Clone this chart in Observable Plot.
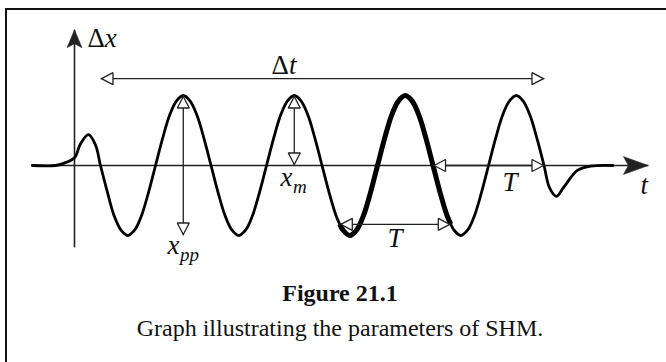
<!DOCTYPE html>
<html><head><meta charset="utf-8">
<script src="https://cdn.jsdelivr.net/npm/d3@7"></script>
<script src="https://cdn.jsdelivr.net/npm/@observablehq/plot@0.6"></script>
<style>
html,body{margin:0;padding:0;background:#fff;overflow:hidden;}
#wrap{position:relative;width:666px;height:362px;overflow:hidden;background:#fff;}
#frame{position:absolute;left:5px;top:8px;width:800px;height:500px;border-left:2px solid #111;border-top:2px solid #111;}
#chart{position:absolute;left:0;top:0;}
.cap{position:absolute;left:0;width:680px;text-align:center;font-family:"Liberation Serif","Times New Roman",serif;font-size:24px;line-height:24px;color:#111;white-space:nowrap;}
#fig{top:281px;font-weight:bold;}
#desc{top:316px;}
</style></head>
<body><div id="wrap"><div id="frame"></div><div id="chart"></div>
<div class="cap" id="fig">Figure 21.1</div>
<div class="cap" id="desc">Graph illustrating the parameters of SHM.</div></div>
<script>
// ---- data (t in periods from the Δx axis, v in amplitudes) ----
const waveT = [-0.38, -0.17, -0.10, 0.00, 0.054, 0.126, 0.19, 0.234, 0.2965, 0.355, 0.4175,
  0.48, 0.5425, 0.605, 0.6675, 0.73, 0.7925, 0.855, 0.9175,
  0.98, 1.0425, 1.105, 1.1675, 1.23, 1.2925, 1.355, 1.4175,
  1.48, 1.5425, 1.605, 1.6675, 1.73, 1.7925, 1.855, 1.9175,
  1.98, 2.0425, 2.105, 2.1675, 2.23, 2.2925, 2.355, 2.39, 2.4175,
  2.48, 2.5425, 2.605, 2.6675, 2.73, 2.7925, 2.855, 2.9175,
  2.98, 3.0425, 3.105, 3.1675, 3.23, 3.2925, 3.355, 3.39, 3.4175,
  3.48, 3.5425, 3.605, 3.6675, 3.73, 3.7925, 3.855, 3.9175,
  3.98, 4.0425, 4.105, 4.1675, 4.23, 4.28, 4.342, 4.408, 4.53, 4.65, 4.85];
const waveV = [0, 0, 0.03, 0.11, 0.31, 0.44, 0.29, 0, -0.38, -0.71, -0.92,
  -1, -0.92, -0.71, -0.38, 0, 0.38, 0.71, 0.92,
  1, 0.92, 0.71, 0.38, 0, -0.38, -0.71, -0.92,
  -1, -0.92, -0.71, -0.38, 0, 0.38, 0.71, 0.92,
  1, 0.92, 0.71, 0.38, 0, -0.38, -0.71, -0.84, -0.92,
  -1, -0.92, -0.71, -0.38, 0, 0.38, 0.71, 0.92,
  1, 0.92, 0.71, 0.38, 0, -0.38, -0.71, -0.84, -0.92,
  -1, -0.92, -0.71, -0.38, 0, 0.38, 0.71, 0.92,
  1, 0.92, 0.71, 0.38, 0, -0.32, -0.44, -0.31, -0.07, -0.01, 0];
const boldFrom = 2.39, boldTo = 3.39;   // highlighted period

const arrowNames = ["Δt", "x_pp", "x_m", "T (lower)", "T (axis)"];
const arrowT1 = [0.234, 0.98, 1.98, 2.39, 3.23];
const arrowV1 = [1.24, -1, 0, -0.84, 0];
const arrowT2 = [4.234, 0.98, 1.98, 3.39, 4.234];
const arrowV2 = [1.24, 1, 1, -0.84, 0];

const axisNames = ["t", "Δx"];
const axisT1 = [-0.38, 0], axisV1 = [0, -1.17];
const axisT2 = [5.17, 0], axisV2 = [0, 1.94];

const labelText = ["Δx", "Δt", "x_m", "x_pp", "T", "T", "t"];
const labelT = [0.117, 1.775, 1.856, 0.838, 2.82, 3.856, 5.10];
const labelV = [1.70, 1.314, -0.286, -1.271, -1.171, -0.371, -0.40];

// ---- build tables ----
const wave = waveT.map((t, i) => ({t, v: waveV[i]}));
const bold = wave.filter(d => d.t >= boldFrom && d.t <= boldTo);
const arrows = arrowNames.map((name, i) => ({name, t1: arrowT1[i], v1: arrowV1[i], t2: arrowT2[i], v2: arrowV2[i]}));
const axes = axisNames.map((name, i) => ({name, t1: axisT1[i], v1: axisV1[i], t2: axisT2[i], v2: axisV2[i]}));
const labels = labelText.map((text, i) => ({text, t: labelT[i], v: labelV[i]}));

const W = 666, H = 270;
const FONT = '"Liberation Serif", "Times New Roman", serif';
const LS = 27, SS = 19, SUBDROP = 7;

// custom arrowheads
const NS = "http://www.w3.org/2000/svg";
function head(d, filled, sw) {
  return (color, context) => {
    const doc = (context && context.document) || document;
    const m = doc.createElementNS(NS, "marker");
    m.setAttribute("viewBox", "-30 -15 32 30");
    m.setAttribute("markerWidth", 32);
    m.setAttribute("markerHeight", 30);
    m.setAttribute("markerUnits", "userSpaceOnUse");
    m.setAttribute("refX", 0);
    m.setAttribute("refY", 0);
    m.setAttribute("orient", "auto-start-reverse");
    m.setAttribute("overflow", "visible");
    const p = doc.createElementNS(NS, "path");
    p.setAttribute("d", d);
    p.setAttribute("fill", filled ? color : "#fff");
    p.setAttribute("stroke", color);
    p.setAttribute("stroke-width", sw);
    p.setAttribute("stroke-linejoin", "miter");
    m.appendChild(p);
    return m;
  };
}
const openHead = head("M-1,0L-12.5,-6L-12.5,6Z", false, 1.3);
const bigHeadX = head("M0,0L-25,-9L-20,0L-25,9Z", true, 0.5);
const bigHeadY = head("M0,0L-18,-7.5L-14,0L-18,7.5Z", true, 0.5);

// label parts
const ctx = document.createElement("canvas").getContext("2d");
function measure(text, style, size) { ctx.font = `${style} ${size}px "Liberation Serif"`; return ctx.measureText(text).width; }
const labelMarks = [];
labels.forEach(L => {
  let s = L.text, dx = 0;
  const parts = [];
  if (s.startsWith("Δ")) { parts.push({text: "Δ", style: "normal", size: LS, dy: 0}); s = s.slice(1); }
  const [main, sub] = s.split("_");
  parts.push({text: main, style: "italic", size: LS, dy: 0});
  if (sub) parts.push({text: sub, style: "italic", size: SS, dy: SUBDROP});
  parts.forEach(p => {
    labelMarks.push(Plot.text([L], {
      x: "t", y: "v", text: () => p.text, dx, dy: p.dy,
      textAnchor: "start", lineAnchor: "bottom",
      fontFamily: FONT, fontSize: p.size, fontStyle: p.style, fill: "#111"
    }));
    dx += measure(p.text, p.style, p.size) + (p.style === "italic" ? 0.5 : 0);
  });
});

const chart = Plot.plot({
  width: W, height: H, margin: 0,
  style: {background: "transparent", overflow: "visible"},
  x: {domain: [-74 / 111, (W - 74) / 111], axis: null},
  y: {domain: [(165 - H) / 70, 165 / 70], axis: null},
  marks: [
    Plot.link(axes.filter(d => d.name === "t"), {x1: "t1", y1: "v1", x2: "t2", y2: "v2", stroke: "#222", strokeWidth: 1.6, markerEnd: bigHeadX}),
    Plot.link(axes.filter(d => d.name === "Δx"), {x1: "t1", y1: "v1", x2: "t2", y2: "v2", stroke: "#222", strokeWidth: 1.6, markerEnd: bigHeadY}),
    Plot.line(wave, {x: "t", y: "v", curve: "catmull-rom", stroke: "#000", strokeWidth: 2.8, strokeLinejoin: "round"}),
    Plot.line(bold, {x: "t", y: "v", curve: "catmull-rom", stroke: "#000", strokeWidth: 5, strokeLinecap: "butt"}),
    Plot.link(arrows, {x1: "t1", y1: "v1", x2: "t2", y2: "v2", stroke: "#222", strokeWidth: 1.3, markerStart: openHead, markerEnd: openHead}),
    ...labelMarks
  ]
});
document.getElementById("chart").appendChild(chart);
</script>
</body></html>
